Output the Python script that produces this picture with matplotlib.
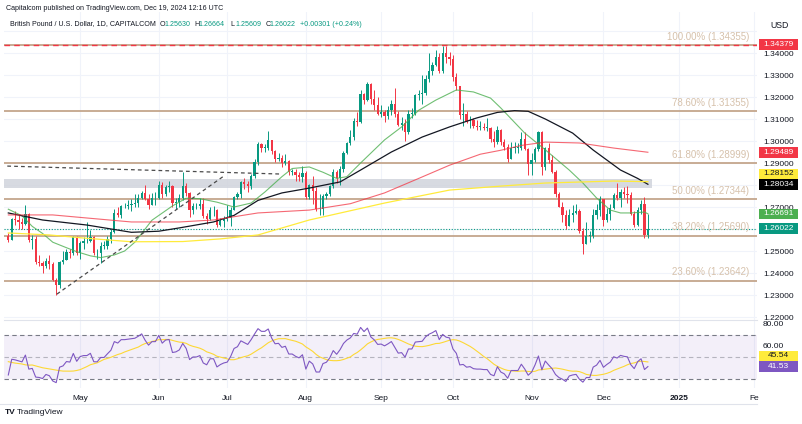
import numpy as np
import pandas as pd
import matplotlib
matplotlib.use("Agg")
import matplotlib.pyplot as plt
from matplotlib.patches import Rectangle
from matplotlib.transforms import blended_transform_factory

plt.rcParams['font.family'] = ['Liberation Sans', 'DejaVu Sans']

W, H = 802, 424
UP = '#089981'
DOWN = '#f23645'
TXT = '#131722'
GRID = '#f0f3fa'

# daily closes before the first drawn bar, only used to warm up the RSI
warmup_closes = [1.2625, 1.2625, 1.2655, 1.2670, 1.2685, 1.2690, 1.2660, 1.2625, 1.2655, 1.2685,
                 1.2705, 1.2740, 1.2810, 1.2855, 1.2800, 1.2790, 1.2790, 1.2750, 1.2735, 1.2720,
                 1.2715, 1.2790, 1.2650, 1.2600, 1.2640, 1.2640, 1.2630, 1.2625, 1.2620, 1.2568]

first_open = 1.2568
# Apr 2 2024 .. Dec 19 2024, one value per trading day
closes = [
    # Apr
    1.2548, 1.2645, 1.2640, 1.2632, 1.2625, 1.2670, 1.2550, 1.2555, 1.2450, 1.2445, 1.2430,
    1.2455, 1.2440, 1.2370, 1.2345, 1.2450, 1.2460, 1.2495, 1.2490, 1.2565, 1.2490,
    # May
    1.2535, 1.2545, 1.2545, 1.2565, 1.2490, 1.2490, 1.2525, 1.2525, 1.2555, 1.2585, 1.2675,
    1.2665, 1.2705, 1.2705, 1.2710, 1.2715, 1.2720, 1.2740, 1.2765, 1.2735, 1.2710, 1.2740, 1.2740,
    # Jun
    1.2800, 1.2760, 1.2790, 1.2795, 1.2720, 1.2725, 1.2740, 1.2795, 1.2765, 1.2685,
    1.2705, 1.2705, 1.2715, 1.2660, 1.2645, 1.2685, 1.2685, 1.2620, 1.2635, 1.2645,
    # Jul
    1.2650, 1.2685, 1.2745, 1.2760, 1.2815, 1.2805, 1.2795, 1.2840, 1.2905, 1.2985, 1.2970,
    1.2970, 1.3005, 1.2955, 1.2920, 1.2925, 1.2900, 1.2910, 1.2860, 1.2860, 1.2845, 1.2835, 1.2855,
    # Aug
    1.2745, 1.2800, 1.2775, 1.2690, 1.2690, 1.2750, 1.2760, 1.2795, 1.2860, 1.2830, 1.2875,
    1.2945, 1.2990, 1.3020, 1.3090, 1.3085, 1.3215, 1.3185, 1.3260, 1.3190, 1.3165, 1.3125,
    # Sep
    1.3130, 1.3115, 1.3140, 1.3170, 1.3125, 1.3075, 1.3080, 1.3040, 1.3125, 1.3125, 1.3210,
    1.3215, 1.3220, 1.3280, 1.3320, 1.3345, 1.3380, 1.3320, 1.3400, 1.3380, 1.3375,
    # Oct
    1.3290, 1.3250, 1.3120, 1.3125, 1.3090, 1.3095, 1.3070, 1.3065, 1.3065, 1.3060, 1.3060,
    1.3010, 1.2995, 1.3050, 1.2995, 1.2975, 1.2920, 1.2970, 1.2970, 1.2970, 1.3010, 1.2965, 1.2895,
    # Nov
    1.2915, 1.2965, 1.3040, 1.2880, 1.2970, 1.2915, 1.2860, 1.2760, 1.2700, 1.2665, 1.2615,
    1.2665, 1.2675, 1.2680, 1.2590, 1.2530, 1.2570, 1.2570, 1.2665, 1.2685, 1.2735,
    # Dec
    1.2640, 1.2670, 1.2695, 1.2755, 1.2740, 1.2770, 1.2760, 1.2755, 1.2670, 1.2620,
    1.2685, 1.2715, 1.2572, 1.2602,
]
highs = [
    1.2580, 1.2652, 1.2680, 1.2662, 1.2650, 1.2709, 1.2675, 1.2575, 1.2568, 1.2480, 1.2455,
    1.2470, 1.2480, 1.2450, 1.2378, 1.2455, 1.2500, 1.2510, 1.2510, 1.2570, 1.2568,
    1.2545, 1.2565, 1.2634, 1.2595, 1.2570, 1.2510, 1.2540, 1.2545, 1.2570, 1.2600, 1.2690,
    1.2700, 1.2710, 1.2720, 1.2730, 1.2735, 1.2760, 1.2760, 1.2775, 1.2800, 1.2760, 1.2765, 1.2770,
    1.2818, 1.2815, 1.2800, 1.2818, 1.2800, 1.2740, 1.2760, 1.2860, 1.2810, 1.2770,
    1.2720, 1.2720, 1.2740, 1.2740, 1.2675, 1.2700, 1.2705, 1.2690, 1.2650, 1.2660,
    1.2710, 1.2700, 1.2750, 1.2770, 1.2820, 1.2830, 1.2820, 1.2850, 1.2920, 1.2995, 1.2990,
    1.2985, 1.3044, 1.3000, 1.2960, 1.2945, 1.2935, 1.2940, 1.2915, 1.2875, 1.2875, 1.2860, 1.2885,
    1.2865, 1.2805, 1.2840, 1.2790, 1.2760, 1.2760, 1.2770, 1.2800, 1.2875, 1.2870, 1.2885,
    1.2955, 1.2995, 1.3050, 1.3105, 1.3130, 1.3230, 1.3220, 1.3266, 1.3265, 1.3230, 1.3200,
    1.3165, 1.3140, 1.3160, 1.3185, 1.3240, 1.3135, 1.3110, 1.3100, 1.3140, 1.3150, 1.3215,
    1.3230, 1.3300, 1.3300, 1.3400, 1.3360, 1.3415, 1.3400, 1.3434, 1.3430, 1.3405,
    1.3390, 1.3310, 1.3250, 1.3175, 1.3135, 1.3115, 1.3105, 1.3095, 1.3090, 1.3080, 1.3105,
    1.3065, 1.3045, 1.3070, 1.3055, 1.3010, 1.2985, 1.2995, 1.2995, 1.2990, 1.3040, 1.3040, 1.2970,
    1.2945, 1.2975, 1.3045, 1.3045, 1.2975, 1.2990, 1.2935, 1.2870, 1.2770, 1.2725, 1.2685,
    1.2690, 1.2710, 1.2715, 1.2690, 1.2605, 1.2630, 1.2590, 1.2690, 1.2715, 1.2750,
    1.2735, 1.2695, 1.2715, 1.2765, 1.2811, 1.2780, 1.2790, 1.2795, 1.2770, 1.2680,
    1.2700, 1.2730, 1.2745, 1.2666,
]
lows = [
    1.2540, 1.2550, 1.2620, 1.2600, 1.2600, 1.2620, 1.2540, 1.2510, 1.2440, 1.2430, 1.2400,
    1.2425, 1.2420, 1.2365, 1.2300, 1.2330, 1.2440, 1.2460, 1.2470, 1.2480, 1.2480,
    1.2465, 1.2510, 1.2535, 1.2540, 1.2480, 1.2465, 1.2445, 1.2510, 1.2510, 1.2535, 1.2580,
    1.2655, 1.2650, 1.2695, 1.2690, 1.2680, 1.2700, 1.2700, 1.2735, 1.2730, 1.2690, 1.2710, 1.2710,
    1.2735, 1.2740, 1.2750, 1.2770, 1.2700, 1.2690, 1.2700, 1.2730, 1.2750, 1.2655,
    1.2670, 1.2690, 1.2690, 1.2650, 1.2625, 1.2640, 1.2660, 1.2610, 1.2615, 1.2610,
    1.2635, 1.2615, 1.2685, 1.2735, 1.2740, 1.2780, 1.2770, 1.2780, 1.2830, 1.2890, 1.2950,
    1.2950, 1.2960, 1.2940, 1.2905, 1.2910, 1.2880, 1.2890, 1.2845, 1.2845, 1.2820, 1.2820, 1.2815,
    1.2735, 1.2735, 1.2715, 1.2680, 1.2665, 1.2665, 1.2735, 1.2750, 1.2785, 1.2810, 1.2800,
    1.2860, 1.2940, 1.2980, 1.3005, 1.3070, 1.3080, 1.3170, 1.3180, 1.3170, 1.3140, 1.3120,
    1.3110, 1.3085, 1.3100, 1.3120, 1.3110, 1.3070, 1.3050, 1.3001, 1.3030, 1.3105, 1.3120,
    1.3185, 1.3170, 1.3210, 1.3270, 1.3300, 1.3340, 1.3310, 1.3310, 1.3355, 1.3345,
    1.3275, 1.3230, 1.3100, 1.3070, 1.3080, 1.3060, 1.3060, 1.3050, 1.3050, 1.3050, 1.3045,
    1.2995, 1.2975, 1.2985, 1.2980, 1.2960, 1.2905, 1.2920, 1.2945, 1.2945, 1.2960, 1.2960, 1.2845,
    1.2845, 1.2905, 1.2955, 1.2845, 1.2870, 1.2900, 1.2855, 1.2745, 1.2700, 1.2630, 1.2600,
    1.2620, 1.2630, 1.2670, 1.2580, 1.2487, 1.2535, 1.2540, 1.2560, 1.2645, 1.2660,
    1.2615, 1.2630, 1.2640, 1.2690, 1.2730, 1.2700, 1.2740, 1.2720, 1.2665, 1.2610,
    1.2615, 1.2670, 1.2560, 1.2561,
]

# moving averages at bar positions
ma20_x = [0, 4, 7, 10, 13, 17, 20, 24, 27, 31, 34, 37, 42, 48, 52, 56, 61, 66, 71, 75, 80, 83, 88, 92,
          96, 99, 103, 110, 115, 120, 125, 131, 136, 141, 144, 151, 157, 164, 168, 172, 176, 179, 182, 186, 187]
ma20_y = [1.2690, 1.2660, 1.2612, 1.2580, 1.2540, 1.2515, 1.2497, 1.2478, 1.2470, 1.2482, 1.2500,
          1.2540, 1.2640, 1.2705, 1.2740, 1.2738, 1.2722, 1.2700, 1.2718, 1.2768, 1.2838, 1.2875,
          1.2882, 1.2858, 1.2830, 1.2838, 1.2900, 1.3005, 1.3064, 1.3140, 1.3186, 1.3232, 1.3223,
          1.3195, 1.3150, 1.3036, 1.2960, 1.2868, 1.2809, 1.2741, 1.2686, 1.2673, 1.2673, 1.2677, 1.26691]
ma50_x = [0, 10, 23, 36, 44, 50, 60, 66, 73, 80, 88, 97, 103, 112, 121, 129, 137, 143, 148, 152,
          157, 165, 171, 179, 184, 187]
ma50_y = [1.2673, 1.2641, 1.2618, 1.2585, 1.2590, 1.2605, 1.2632, 1.2662, 1.2730, 1.2764, 1.2786,
          1.2814, 1.2868, 1.2950, 1.3018, 1.3064, 1.3105, 1.3130, 1.3138, 1.3135, 1.3100, 1.3036,
          1.2959, 1.2868, 1.2830, 1.28034]
ma100_x = [0, 13, 23, 36, 50, 60, 73, 88, 100, 110, 120, 129, 138, 144, 150, 157, 167, 177, 187]
ma100_y = [1.2664, 1.2664, 1.2650, 1.2632, 1.2632, 1.2641, 1.2673, 1.2686, 1.2715, 1.2764, 1.2830,
           1.2890, 1.2940, 1.2958, 1.2980, 1.2995, 1.2991, 1.2968, 1.29489]
ma200_x = [0, 12, 22, 36, 51, 62, 73, 88, 110, 129, 144, 157, 177, 187]
ma200_y = [1.2582, 1.2573, 1.2559, 1.2542, 1.2543, 1.2555, 1.2573, 1.2641, 1.2718, 1.2777, 1.2795,
           1.2809, 1.2818, 1.28152]

fib_pct = [100.0, 78.6, 61.8, 50.0, 38.2, 23.6]
fib_lvl = [1.34355, 1.31355, 1.28999, 1.27344, 1.25690, 1.23642]
high_line = 1.34379
last_price = 1.26022
zone_x = [-1.3, 188.3]
zone_y = [1.2786, 1.2826]
trend_flat = ([-0.3, 79.4], [1.2886, 1.2850])
trend_up = ([14.2, 63.4], [1.2304, 1.2845])

price_tags = [(1.34379, 'white', '#f23645'), (1.29489, 'white', '#f23645'),
              (1.28152, TXT, '#ffeb3b'), (1.28034, 'white', '#000000'),
              (1.26691, 'white', '#4caf50'), (1.26022, 'white', UP)]
rsi_tags = [(45.54, TXT, '#ffeb3b'), (41.53, 'white', '#7e57c2')]

month_pos = [21, 44, 64, 87, 109, 130, 153, 174, 196, 218]
month_lab = ['May', 'Jun', 'Jul', 'Aug', 'Sep', 'Oct', 'Nov', 'Dec', '2025', 'Fe']

# ---------------------------------------------------------------
fig = plt.figure(figsize=(W / 100, H / 100), dpi=100)
fig.patch.set_facecolor('white')
L, R = 4 / W, 757 / W
ax = fig.add_axes([L, 1 - 320 / H, R - L, 308 / H])
axr = fig.add_axes([L, 1 - 388 / H, R - L, 68 / H], sharex=ax)

n = len(closes)
idx = np.arange(n)
c = np.array(closes)
o = np.array([first_open] + closes[:-1])
hi = np.maximum(np.array(highs), np.maximum(o, c))
lo = np.minimum(np.array(lows), np.minimum(o, c))
col = np.where(c >= o, UP, DOWN)

ax.vlines(idx, lo, hi, colors=col, lw=0.7, zorder=4)
ax.bar(idx, np.maximum(np.abs(c - o), 0.00015), bottom=np.minimum(o, c), width=0.66,
       color=col, lw=0, zorder=5)

ax.plot(ma20_x, ma20_y, color='#4caf50', lw=0.8, alpha=0.8, zorder=6)
ax.plot(ma50_x, ma50_y, color='#131722', lw=0.9, zorder=6)
ax.plot(ma100_x, ma100_y, color='#f23645', lw=0.8, alpha=0.75, zorder=6)
ax.plot(ma200_x, ma200_y, color='#ffeb3b', lw=0.9, zorder=6)

ax.fill_between(zone_x, zone_y[0], zone_y[1], color='#d1d4dc', alpha=0.85, lw=0, zorder=1)
ax.plot(*trend_flat, color='#4a4a4a', lw=0.9, dashes=(3, 2.5), zorder=6)
ax.plot(*trend_up, color='#4a4a4a', lw=0.9, dashes=(3, 2.5), zorder=6)

for pct, lvl in zip(fib_pct, fib_lvl):
    ax.axhline(lvl, color='#c4a68c', lw=1.3, zorder=2)
    ax.annotate(f'{pct:.2f}% ({lvl:.5f})', xy=(0.99, lvl),
                xycoords=blended_transform_factory(ax.transAxes, ax.transData),
                xytext=(0, 2.5), textcoords='offset points', ha='right', va='bottom',
                fontsize=7, color='#d6c1ab', zorder=7)
ax.axhline(high_line, color='#f23645', lw=1, dashes=(4, 3), zorder=3)
ax.axhline(last_price, color=UP, lw=0.8, dashes=(1, 1.5), zorder=3)

# RSI(14) with a 14-bar moving average
s = pd.Series(warmup_closes + closes)
d = s.diff()
gain = d.clip(lower=0).ewm(alpha=1 / 14, adjust=False).mean()
loss = (-d.clip(upper=0)).ewm(alpha=1 / 14, adjust=False).mean()
rsi = 100 - 100 / (1 + gain / loss)
rsi_ma = rsi.rolling(14).mean()
k = len(warmup_closes)
axr.fill_between([-1.3, 219], 30, 70, color='#7e57c2', alpha=0.09, lw=0)
for lv, a in [(70, 1), (50, 0.5), (30, 1)]:
    axr.axhline(lv, color='#787b86', lw=0.8, dashes=(4, 3), alpha=a)
axr.plot(idx, rsi_ma.values[k:], color='#fdd835', lw=0.8)
axr.plot(idx, rsi.values[k:], color='#7e57c2', lw=0.8)

# axes styling
ax.set_xlim(-1.26, 218.9)
ax.set_ylim(1.21864, 1.35864)
axr.set_ylim(22.1, 83.4)
for a in (ax, axr):
    for sp in a.spines.values():
        sp.set_visible(False)
    a.yaxis.tick_right()
    a.tick_params(axis='both', length=0, labelsize=6, colors=TXT, pad=4.3)
    for m in month_pos:
        a.axvline(m, color=GRID, lw=0.8, zorder=0)
axr.spines['top'].set_visible(True)
axr.spines['top'].set_color('#e0e3eb')

yt = [1.22, 1.23, 1.24, 1.25, 1.27, 1.29, 1.30, 1.31, 1.32, 1.33, 1.34]
ax.set_yticks(yt)
ax.set_yticklabels([f'{v:.5f}' for v in yt])
for v in np.arange(1.22, 1.355, 0.01):
    ax.axhline(v, color=GRID, lw=0.8, zorder=0)
ax.tick_params(axis='x', labelbottom=False)
axr.set_yticks([60, 80])
axr.set_yticklabels(['60.00', '80.00'])
axr.set_xticks(month_pos)
axr.set_xticklabels(month_lab)
axr.tick_params(axis='x', pad=5)
for t in axr.get_xticklabels():
    if t.get_text() == '2025':
        t.set_fontweight('bold')


def tags(a, items, px_per_unit, fmt):
    # scale labels; when two would overlap the upper one is pushed up, as on the price scale
    tr = blended_transform_factory(a.transAxes, a.transData)
    hgt = 10.5 / px_per_unit
    wid = 39 / 753
    prev = None
    for v, fg, bg in sorted(items):
        pos = v if prev is None else max(v, prev + hgt)
        prev = pos
        a.add_patch(Rectangle((1.003, pos - hgt / 2), wid, hgt, transform=tr, fc=bg, ec='none',
                              clip_on=False, zorder=9))
        a.text(1.003 + wid / 2, pos, fmt.format(v), transform=tr, ha='center', va='center',
               fontsize=6, color=fg, zorder=10, clip_on=False)


tags(ax, price_tags, 2200, '{:.5f}')
tags(axr, rsi_tags, 1.107, '{:.2f}')


def ftxt(x, y, s, **kw):
    kw.setdefault('fontsize', 5.15)
    kw.setdefault('color', TXT)
    fig.text(x / W, 1 - y / H, s, ha=kw.pop('ha', 'left'), va='center', **kw)


ftxt(6, 8, 'Capitalcom published on TradingView.com, Dec 19, 2024 12:16 UTC')
ftxt(10, 24, 'British Pound / U.S. Dollar, 1D, CAPITALCOM')
for x0, lab, val in [(160, 'O', '1.25630'), (194, 'H', '1.26664'),
                     (230.5, 'L', '1.25609'), (265.5, 'C', '1.26022')]:
    ftxt(x0, 24, lab)
    ftxt(x0 + 4.5, 24, val, color=UP)
ftxt(300, 24, '+0.00301 (+0.24%)', color=UP)
ftxt(770, 25, 'USD', fontsize=6.3)
fig.add_artist(plt.Line2D([0, R], [1 - 404 / H, 1 - 404 / H], color='#e0e3eb', lw=0.8))
ftxt(5, 413, 'TV', fontsize=6, fontweight='bold')
ftxt(17, 413, 'TradingView', fontsize=6)

fig.savefig('out.png', dpi=100, facecolor='white')
